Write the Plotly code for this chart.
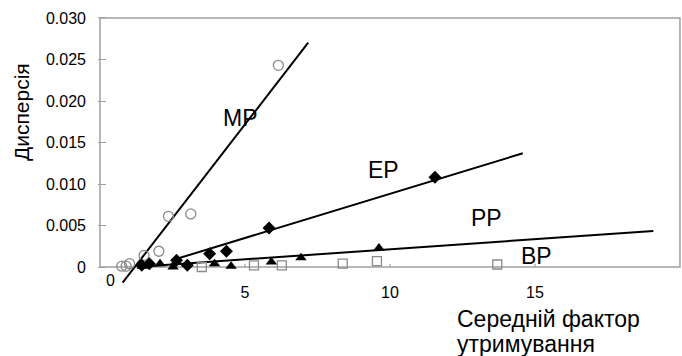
import plotly.graph_objects as go

# ---- data ----
mp_x = [0.75, 0.90, 1.02, 1.52, 2.03, 2.36, 3.13, 6.15]
mp_y = [0.0001, 0.0001, 0.0004, 0.0014, 0.0019, 0.0061, 0.0064, 0.0243]

ep_x = [1.44, 1.70, 2.64, 3.01, 3.78, 4.36, 5.83, 11.55]
ep_y = [0.0002, 0.0004, 0.0008, 0.0002, 0.0016, 0.0019, 0.0047, 0.0108]

pp_x = [1.46, 2.07, 2.52, 2.62, 3.95, 4.52, 5.91, 6.93, 9.62]
pp_y = [0.0001, 0.0004, 0.0000, 0.0006, 0.0004, 0.0001, 0.0006, 0.0011, 0.0023]

bp_x = [3.51, 5.31, 6.27, 8.37, 9.55, 13.70]
bp_y = [0.0000, 0.0002, 0.0002, 0.0004, 0.0007, 0.0003]

# fitted trend lines (end points)
mp_fit_x = [0.78, 7.18]
mp_fit_y = [-0.00189, 0.02702]
ep_fit_x = [2.62, 14.58]
ep_fit_y = [0.00096, 0.0137]
pp_fit_x = [1.38, 19.08]
pp_fit_y = [0.00004, 0.00434]

y_ticks = [0, 0.005, 0.010, 0.015, 0.020, 0.025, 0.030]
y_tick_text = ["0", "0.005", "0.010", "0.015", "0.020", "0.025", "0.030"]
x_ticks = [5, 10, 15]
x_tick_text = ["5", "10", "15"]

series_labels = ["MP", "EP", "PP", "BP"]
label_x = [4.85, 9.76, 13.33, 15.06]
label_y = [0.0180, 0.0117, 0.0059, 0.00133]

FONT = "Liberation Sans, Arial, sans-serif"
GRAY = "#8a8a8a"
AXIS = "#a0a0a0"

fig = go.Figure()

for fx, fy in [(mp_fit_x, mp_fit_y), (ep_fit_x, ep_fit_y), (pp_fit_x, pp_fit_y)]:
    fig.add_trace(go.Scatter(x=fx, y=fy, mode="lines",
                             line=dict(color="black", width=2), showlegend=False,
                             hoverinfo="skip"))

fig.add_trace(go.Scatter(x=mp_x, y=mp_y, mode="markers", name="MP",
                         marker=dict(symbol="circle-open", size=10, color=GRAY,
                                     line=dict(width=1.3, color=GRAY))))
fig.add_trace(go.Scatter(x=ep_x, y=ep_y, mode="markers", name="EP",
                         marker=dict(symbol="diamond", size=10, color="black")))
fig.add_trace(go.Scatter(x=pp_x, y=pp_y, mode="markers", name="PP",
                         marker=dict(symbol="triangle-up", size=10, color="black")))
fig.add_trace(go.Scatter(x=bp_x, y=bp_y, mode="markers", name="BP",
                         marker=dict(symbol="square-open", size=9, color=GRAY,
                                     line=dict(width=1.3, color=GRAY))))

shapes = [dict(type="rect", xref="x", yref="y", x0=0, x1=20, y0=0, y1=0.030,
               line=dict(color=AXIS, width=1.5), layer="below")]
for xv in x_ticks:
    shapes.append(dict(type="line", xref="x", yref="y", x0=xv, x1=xv, y0=0, y1=0.0004,
                       line=dict(color=AXIS, width=1.2)))

annotations = []
for t, ax, ay in zip(series_labels, label_x, label_y):
    annotations.append(dict(x=ax, y=ay, xref="x", yref="y", text=t, showarrow=False,
                            font=dict(family=FONT, size=23, color="black")))
annotations.append(dict(x=0, y=0, xref="x", yref="y", text="0", showarrow=False,
                        xshift=10, yshift=-13, font=dict(family=FONT, size=16, color="black")))
for txt, py in [("Середній фактор", 319), ("утримування", 344)]:
    annotations.append(dict(x=(455 - 98) / 584, y=(284 - py) / 268, xref="paper", yref="paper",
                            xanchor="left", yanchor="middle", align="left",
                            text=txt, showarrow=False,
                            font=dict(family=FONT, size=23, color="black")))
annotations.append(dict(x=(21 - 98) / 584, y=(284 - 112) / 268, xref="paper", yref="paper",
                        xanchor="center", yanchor="middle", textangle=-90,
                        text="Дисперсія", showarrow=False,
                        font=dict(family=FONT, size=21, color="black")))

fig.update_layout(
    width=682, height=356,
    margin=dict(l=98, r=0, t=16, b=72),
    paper_bgcolor="white", plot_bgcolor="white",
    showlegend=False,
    shapes=shapes, annotations=annotations,
    xaxis=dict(range=[-0.069, 20.07], showgrid=False, zeroline=False, showline=False,
               tickvals=x_ticks, ticktext=x_tick_text, ticks="", ticklabelstandoff=-3,
               tickfont=dict(family=FONT, size=16, color="black")),
    yaxis=dict(range=[-0.002048, 0.03024], showgrid=False, zeroline=False, showline=False,
               tickvals=y_ticks, ticktext=y_tick_text, ticks="inside", ticklen=8,
               tickcolor=AXIS, tickwidth=1.2, ticklabelstandoff=11,
               tickfont=dict(family=FONT, size=16, color="black")),
)

fig.write_html("out.html")
